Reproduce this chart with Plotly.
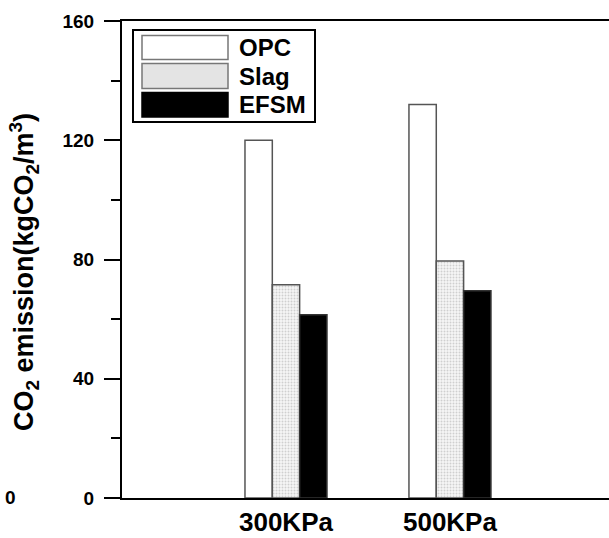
import plotly.graph_objects as go

categories = ["300KPa", "500KPa"]
opc = [120, 132]
slag = [71.5, 79.5]
efsm = [61.5, 69.5]
series_names = ["OPC", "Slag", "EFSM"]
y_ticks = [0, 40, 80, 120, 160]
y_title = "CO<sub>2</sub> emission(kgCO<sub>2</sub>/m<sup>3</sup>)"

W, H = 609, 538
L, T, B, R = 122, 21, 40, 0
PW, PH = W - L - R, H - T - B
FONT = "Arial, 'Liberation Sans', sans-serif"


def px(x):
    return (x - L) / PW


def py(y):
    return (H - B - y) / PH


fig = go.Figure()
fig.add_trace(go.Bar(x=categories, y=opc, name=series_names[0],
                     marker=dict(color="white", line=dict(color="#555", width=1.5)),
                     showlegend=False))
fig.add_trace(go.Bar(x=categories, y=slag, name=series_names[1],
                     marker=dict(color="white", line=dict(color="#555", width=1.5),
                                 pattern=dict(shape=".", fgcolor="#a8a8a8", bgcolor="#f6f6f6",
                                              size=3, solidity=0.35)),
                     showlegend=False))
fig.add_trace(go.Bar(x=categories, y=efsm, name=series_names[2],
                     marker=dict(color="black", line=dict(color="#333", width=1.5)),
                     showlegend=False))

# custom legend box
shapes = [dict(type="rect", xref="paper", yref="paper",
               x0=px(133), x1=px(315), y0=py(122), y1=py(30),
               line=dict(color="black", width=2), fillcolor="white", layer="above")]
rows = [(35.5, 59.5, "white", "#777"), (63.5, 88.5, "#e4e4e4", "#777"), (92.5, 117, "black", "black")]
annotations = []
for (y0, y1, fc, lc), name in zip(rows, series_names):
    shapes.append(dict(type="rect", xref="paper", yref="paper",
                       x0=px(142), x1=px(228), y0=py(y1), y1=py(y0),
                       line=dict(color=lc, width=1.5), fillcolor=fc, layer="above"))
    annotations.append(dict(xref="paper", yref="paper", x=px(237), y=py((y0 + y1) / 2),
                            text=name, showarrow=False, xanchor="left", yanchor="middle",
                            font=dict(family=FONT, size=24, color="black", weight="bold")))

# y-axis title
annotations.append(dict(xref="paper", yref="paper", x=px(24), y=py(272), text=y_title,
                        textangle=-90, showarrow=False, xanchor="center", yanchor="middle",
                        font=dict(family=FONT, size=27, color="black", weight="bold")))

# stray "0" from neighbouring panel at left edge
annotations.append(dict(xref="paper", yref="paper", x=px(10), y=py(497), text="0",
                        showarrow=False, xanchor="center", yanchor="middle",
                        font=dict(family=FONT, size=19, color="black", weight="bold")))

fig.update_layout(
    width=W, height=H,
    margin=dict(l=L, r=R, t=T, b=B, autoexpand=False),
    paper_bgcolor="white", plot_bgcolor="white",
    barmode="group", bargap=0.5, bargroupgap=0,
    shapes=shapes, annotations=annotations,
    showlegend=False,
    xaxis=dict(type="category", range=[-1.0, 1.97], showline=True, linecolor="black",
               linewidth=2, mirror=True, ticks="", showgrid=False, zeroline=False,
               ticklabelstandoff=0,
               tickfont=dict(family=FONT, size=26, color="black", weight="bold")),
    yaxis=dict(range=[0, 160], tickvals=y_ticks, showline=True, linecolor="black",
               linewidth=2, ticks="outside", ticklen=16, tickwidth=2, tickcolor="black",
               ticklabelstandoff=6,
               minor=dict(dtick=20, ticks="outside", ticklen=9, tickwidth=2, tickcolor="black"),
               showgrid=False, zeroline=False,
               tickfont=dict(family=FONT, size=19, color="black", weight="bold")),
)

fig.write_html("out.html", config={"displayModeBar": False},
               post_script="document.body.style.margin='0';")
